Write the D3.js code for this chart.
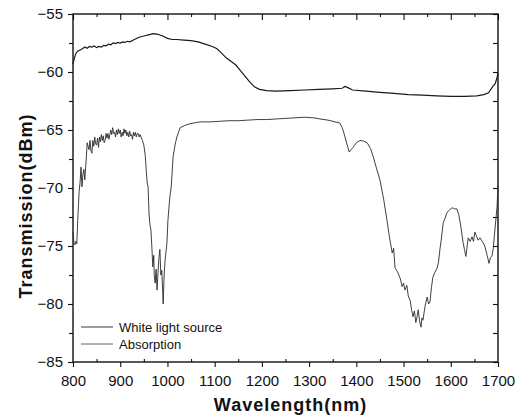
<!DOCTYPE html>
<html>
<head>
<meta charset="utf-8">
<script src="https://cdn.jsdelivr.net/npm/d3@7"></script>
<style>
  body { margin: 0; background: #fff; }
  .viz text { font-family: "Liberation Sans", Arial, sans-serif; fill: #111; }
</style>
</head>
<body>
<svg class="viz" width="522" height="416"></svg>
<script>
// White light source curve (nm, dBm)
var wlWhite = [800, 803, 806, 810, 815, 820, 825, 830, 835, 840, 845, 850, 855, 860, 865, 870, 875, 880, 885, 890,
  895, 900, 905, 910, 915, 920, 925, 930, 940, 950, 960, 970,
  980, 990, 1000, 1010, 1020, 1035, 1050, 1065, 1080, 1095, 1105, 1115, 1125, 1135, 1145, 1155, 1165, 1175, 1185, 1195,
  1210, 1230, 1260, 1290, 1320, 1350, 1370, 1376, 1382, 1392, 1420, 1450, 1480, 1510, 1540, 1570, 1600, 1630, 1655, 1670,
  1680, 1688, 1694, 1698, 1700];
var dbmWhite = [-59.3, -58.8, -58.4, -58.2, -58.1, -58.0, -57.85, -57.95, -57.8, -57.85, -57.75, -57.9, -57.8, -57.85, -57.7, -57.75, -57.6, -57.65, -57.5, -57.55,
  -57.45, -57.5, -57.4, -57.45, -57.35, -57.4, -57.3, -57.2, -57.0, -56.9, -56.8, -56.7,
  -56.75, -56.9, -57.1, -57.2, -57.2, -57.25, -57.3, -57.4, -57.6, -57.8, -58.0, -58.4, -58.8, -59.1, -59.4, -59.9, -60.4, -60.9, -61.3, -61.5,
  -61.6, -61.65, -61.6, -61.55, -61.5, -61.45, -61.4, -61.25, -61.35, -61.55, -61.65, -61.75, -61.85, -61.95, -62.0, -62.05, -62.1, -62.1, -62.05, -61.95,
  -61.8, -61.3, -61.0, -60.5, -60.1];

// Absorption curve (nm, dBm)
var wlAbs = [800, 802, 804, 806, 808, 810, 813, 815, 817, 819, 821, 823, 825, 828, 830, 834,
  836, 838, 840, 842, 844, 846, 848, 850, 852, 854, 856, 858, 860, 862, 864, 866, 868, 870, 872, 874,
  876, 878, 880, 882, 884, 886, 888, 890, 892, 894, 896, 898, 900, 902, 904, 906, 908, 910, 912, 914,
  916, 918, 920, 922, 924, 926, 928, 930, 932, 934, 936, 938, 940, 942, 944, 947,
  950, 953, 955, 957, 959, 961, 963, 965, 967, 969, 971, 972, 974, 976, 978,
  980, 982, 984, 986, 988, 990, 991, 993, 995, 997, 999, 1001, 1005, 1008, 1012, 1016, 1020, 1027, 1037, 1044,
  1055, 1070, 1090, 1110, 1130, 1150, 1170, 1190, 1210, 1230, 1250, 1270, 1290, 1310, 1323, 1340, 1355, 1365, 1370, 1374,
  1380, 1385, 1389, 1393, 1400, 1408, 1415, 1423, 1430, 1435, 1442, 1450, 1458, 1465, 1470, 1476, 1479, 1482, 1487, 1493,
  1497, 1500, 1503, 1507, 1510, 1514, 1517, 1520, 1523, 1526, 1529, 1531, 1534, 1537, 1539, 1541, 1544, 1546, 1550, 1553,
  1556, 1559, 1562, 1566, 1571, 1574, 1577, 1580, 1584, 1588, 1592, 1597, 1603, 1608, 1613, 1617, 1620, 1623, 1626, 1629,
  1632, 1635, 1637, 1641, 1645, 1648, 1651, 1655, 1658, 1662, 1668, 1672, 1677, 1681, 1684, 1687, 1690, 1693, 1696, 1698, 1700];
var dbmAbs = [-73.8, -74.7, -74.9, -74.6, -74.8, -72.8, -70.3, -69.5, -68.2, -69.9, -68.8, -68.4, -69.3, -67.5, -66.1, -66.7,
  -65.9, -66.8, -67.0, -65.9, -66.4, -65.6, -66.2, -66.3, -65.7, -66.5, -65.6, -66.0, -65.4, -65.9, -65.5, -66.1, -65.9, -65.3, -65.7, -65.3,
  -65.8, -65.4, -65.0, -65.4, -64.8, -65.3, -65.2, -65.6, -65.0, -65.4, -64.9, -65.3, -65.0, -65.6, -65.2, -65.5, -64.9, -65.3, -65.0, -65.5,
  -65.2, -65.6, -65.1, -65.5, -65.4, -65.8, -65.2, -65.5, -65.2, -65.6, -65.3, -65.3, -65.6, -65.4, -65.6, -65.9,
  -66.3, -67.2, -68.4, -69.5, -69.9, -72.2, -73.2, -73.6, -75.1, -76.8, -75.8, -77.5, -78.2, -77.0, -78.8,
  -77.3, -76.0, -75.3, -77.5, -77.1, -79.0, -80.0, -77.5, -76.2, -75.5, -74.7, -72.8, -70.8, -69.9, -67.3, -66.3, -65.6, -64.8, -64.6, -64.5,
  -64.4, -64.3, -64.3, -64.25, -64.2, -64.2, -64.15, -64.1, -64.1, -64.05, -64.0, -63.95, -63.9, -63.95, -64.05, -64.15, -64.3, -64.4, -64.8, -65.3,
  -66.2, -66.9, -66.7, -66.5, -66.1, -65.9, -65.95, -66.1, -66.6, -67.2, -68.2, -69.3, -71.0, -72.8, -74.2, -75.6, -75.2, -76.9, -77.2, -77.8,
  -78.5, -78.2, -78.8, -78.4, -79.3, -79.7, -80.5, -81.1, -80.6, -81.6, -81.0, -80.5, -81.5, -82.0, -81.2, -81.4, -80.6, -80.1, -79.4, -80.0,
  -79.8, -78.6, -77.7, -77.3, -76.9, -76.4, -75.3, -74.4, -73.0, -72.6, -72.1, -71.9, -71.7, -71.8, -71.8, -72.3, -73.0, -73.8, -74.7, -75.3,
  -75.9, -74.9, -74.3, -74.6, -74.2, -74.6, -73.8, -74.2, -74.5, -74.3, -74.7, -75.0, -75.8, -76.5, -76.0, -75.9, -75.2, -73.8, -72.5, -71.6, -69.8];

var xMajor = [800, 900, 1000, 1100, 1200, 1300, 1400, 1500, 1600, 1700];
var xMinor = [850, 950, 1050, 1150, 1250, 1350, 1450, 1550, 1650];
var yMajor = [-85, -80, -75, -70, -65, -60, -55];
var yMinor = [-82.5, -77.5, -72.5, -67.5, -62.5, -57.5];
var legendNames = ["White light source", "Absorption"];

var svg = d3.select(".viz"),
    margin = {top: 14, right: 24, bottom: 54, left: 73},
    width = svg.attr("width") - margin.left - margin.right,
    height = svg.attr("height") - margin.top - margin.bottom;

var x = d3.scaleLinear().domain([800, 1700]).range([0, width]);
var y = d3.scaleLinear().domain([-85, -55]).range([height, 0]);

var g = svg.append("g")
    .attr("transform", "translate(" + margin.left + "," + margin.top + ")");

function noDomain(sel) { sel.select(".domain").remove(); sel.selectAll("line").attr("stroke", "#111").attr("stroke-width", 1.1); }

// bottom axis
g.append("g").attr("transform", "translate(0," + height + ")")
    .call(d3.axisBottom(x).tickValues(xMajor).tickSize(5).tickPadding(8).tickFormat(d3.format("d")))
    .call(noDomain)
    .selectAll("text").attr("font-size", "15px");
g.append("g").attr("transform", "translate(0," + height + ")")
    .call(d3.axisBottom(x).tickValues(xMinor).tickSize(-3).tickFormat(""))
    .call(noDomain);

// top axis
g.append("g")
    .call(d3.axisTop(x).tickValues(xMajor).tickSize(-6).tickFormat(""))
    .call(noDomain);
g.append("g")
    .call(d3.axisTop(x).tickValues(xMinor).tickSize(-3).tickFormat(""))
    .call(noDomain);

// left axis
g.append("g")
    .call(d3.axisLeft(y).tickValues(yMajor).tickSize(5).tickPadding(5).tickFormat(d3.format("d")))
    .call(noDomain)
    .selectAll("text").attr("font-size", "15px");
g.append("g")
    .call(d3.axisLeft(y).tickValues(yMinor).tickSize(4).tickFormat(""))
    .call(noDomain);

// right axis
g.append("g").attr("transform", "translate(" + width + ",0)")
    .call(d3.axisRight(y).tickValues(yMajor.concat(yMinor)).tickSize(-5).tickFormat(""))
    .call(noDomain);

// frame
g.append("rect")
    .attr("width", width).attr("height", height)
    .attr("fill", "none").attr("stroke", "#111").attr("stroke-width", 1.4);

var line = d3.line()
    .x(function(d) { return x(d[0]); })
    .y(function(d) { return y(d[1]); });

g.append("path")
    .datum(d3.zip(wlWhite, dbmWhite))
    .attr("d", line)
    .attr("fill", "none").attr("stroke", "#1a1a1a").attr("stroke-width", 1.2);

g.append("path")
    .datum(d3.zip(wlAbs, dbmAbs))
    .attr("d", line)
    .attr("fill", "none").attr("stroke", "#2a2a2a").attr("stroke-width", 0.9);

// legend
var leg = g.selectAll(".leg").data(legendNames).enter().append("g")
    .attr("class", "leg")
    .attr("transform", function(d, i) { return "translate(8," + (313 + i * 17) + ")"; });
leg.append("line")
    .attr("x1", 0).attr("x2", 32)
    .attr("stroke", function(d, i) { return i == 0 ? "#222" : "#555"; })
    .attr("stroke-width", 0.9);
leg.append("text")
    .attr("x", 38).attr("y", 5)
    .attr("font-size", "13px")
    .text(function(d) { return d; });

// axis titles
svg.append("text")
    .attr("x", margin.left + width / 2 + 5).attr("y", 411)
    .attr("text-anchor", "middle")
    .attr("font-size", "18px").attr("font-weight", "bold").attr("letter-spacing", "1px")
    .text("Wavelength(nm)");

svg.append("text")
    .attr("transform", "translate(32,206) rotate(-90)")
    .attr("text-anchor", "middle")
    .attr("font-size", "18px").attr("font-weight", "bold").attr("letter-spacing", "1px")
    .text("Transmission(dBm)");
</script>
</body>
</html>
